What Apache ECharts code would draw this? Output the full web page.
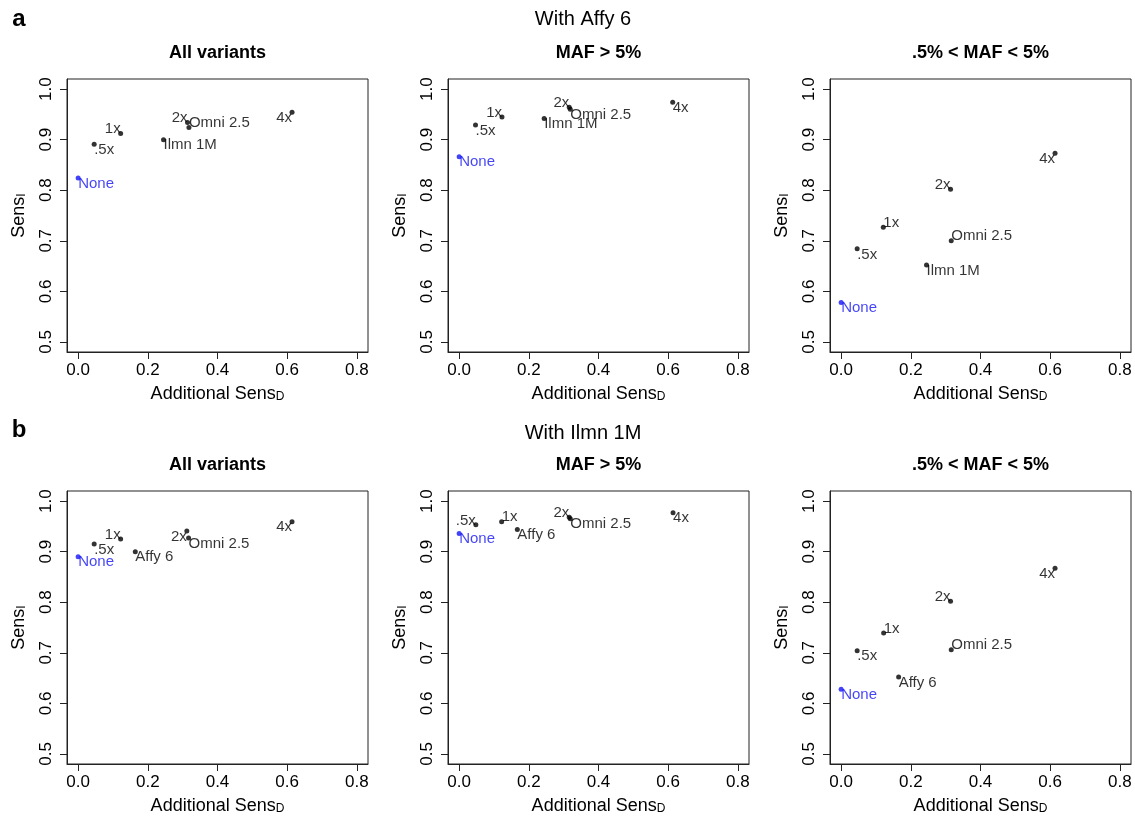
<!DOCTYPE html>
<html><head><meta charset="utf-8">
<script src="https://cdn.jsdelivr.net/npm/echarts@6/dist/echarts.min.js"></script>
<style>html,body{margin:0;padding:0;background:#fff}#c{width:1135px;height:817px}</style>
</head><body><div id="c"></div>
<script>
const FONT = "'Liberation Sans', Arial, Helvetica, sans-serif";

// ---- data ----
const rowLetters = ['a', 'b'];
const rowTitles = ['With Affy 6', 'With Ilmn 1M'];
const panelTitles = ['All variants', 'MAF > 5%', '.5% < MAF < 5%'];
const xTicks = [0, 0.2, 0.4, 0.6, 0.8];
const yTicks = [0.5, 0.6, 0.7, 0.8, 0.9, 1.0];

const namesA = ['None', '.5x', '1x', '2x', '4x', 'Ilmn 1M', 'Omni 2.5'];
const namesB = ['None', '.5x', '1x', '2x', '4x', 'Affy 6', 'Omni 2.5'];

// Row a: with Affy 6
const a1X = [0, 0.046, 0.122, 0.314, 0.614, 0.245, 0.318];
const a1Y = [0.824, 0.891, 0.912, 0.934, 0.954, 0.900, 0.924];
const a2X = [0, 0.047, 0.123, 0.316, 0.613, 0.244, 0.319];
const a2Y = [0.866, 0.929, 0.945, 0.964, 0.974, 0.942, 0.960];
const a3X = [0, 0.046, 0.121, 0.314, 0.614, 0.245, 0.316];
const a3Y = [0.578, 0.684, 0.727, 0.802, 0.873, 0.652, 0.700];
// Row b: with Ilmn 1M
const b1X = [0, 0.046, 0.122, 0.312, 0.614, 0.164, 0.317];
const b1Y = [0.890, 0.915, 0.925, 0.941, 0.959, 0.900, 0.927];
const b2X = [0, 0.048, 0.122, 0.316, 0.614, 0.167, 0.319];
const b2Y = [0.936, 0.953, 0.959, 0.968, 0.977, 0.944, 0.965];
const b3X = [0, 0.046, 0.122, 0.314, 0.614, 0.165, 0.316];
const b3Y = [0.628, 0.704, 0.739, 0.802, 0.867, 0.652, 0.706];

// ---- label placement (layout only) ----
const anchorsA1 = ['tl', 'tl', 'br', 'br', 'tr', 'tl', 'bl'];
const anchorsA2 = ['tl', 'tl', 'br', 'br', 'tl', 'tl', 'tl'];
const anchorsA3 = ['tl', 'tl', 'bl', 'br', 'tr', 'tl', 'bl'];
const anchorsB1 = ['tl', 'tl', 'br', 'tr', 'tr', 'tl', 'tl'];
const anchorsB2 = ['tl', 'br', 'bl', 'br', 'tl', 'tl', 'tl'];
const anchorsB3 = ['tl', 'tl', 'bl', 'br', 'tr', 'tl', 'bl'];

const panels = [
  { names: namesA, xs: a1X, ys: a1Y, anchors: anchorsA1 },
  { names: namesA, xs: a2X, ys: a2Y, anchors: anchorsA2 },
  { names: namesA, xs: a3X, ys: a3Y, anchors: anchorsA3 },
  { names: namesB, xs: b1X, ys: b1Y, anchors: anchorsB1 },
  { names: namesB, xs: b2X, ys: b2Y, anchors: anchorsB2 },
  { names: namesB, xs: b3X, ys: b3Y, anchors: anchorsB3 }
];

const colLefts = [67, 448, 830];
const rowTops = [79, 491];
const GW = 301, GH = 273;
const BLUE = '#1414f5';
const INK = '#000';

function anchorLabel(a) {
  const m = {
    tl: { align: 'left', verticalAlign: 'top', offset: [0, -2] },
    tr: { align: 'right', verticalAlign: 'top', offset: [0, -2] },
    bl: { align: 'left', verticalAlign: 'bottom', offset: [0, 3] },
    br: { align: 'right', verticalAlign: 'bottom', offset: [0, 3] }
  }[a];
  return Object.assign({ position: ['50%', '50%'] }, m);
}

const richName = {
  n: { fontSize: 18, fontFamily: FONT, color: INK, verticalAlign: 'top', lineHeight: 18 },
  s: { fontSize: 12, fontFamily: FONT, color: INK, verticalAlign: 'bottom', lineHeight: 12, padding: [10, 0, 0, 0] }
};

const grids = [], xAxes = [], yAxes = [], series = [], graphics = [];
panels.forEach((p, i) => {
  const r = Math.floor(i / 3), c = i % 3;
  grids.push({ left: colLefts[c], top: rowTops[r], width: GW, height: GH,
    show: true, borderColor: '#222', borderWidth: 1, backgroundColor: 'transparent' });
  xAxes.push({
    gridIndex: i, type: 'value', min: -0.032, max: 0.832,
    name: '{n|Additional Sens}{s|D}', nameLocation: 'middle', nameGap: 33,
    nameTextStyle: { rich: richName },
    axisLine: { show: true, onZero: false, lineStyle: { color: '#222', width: 1 } },
    axisTick: { show: true, length: 7, customValues: xTicks, lineStyle: { color: '#222' } },
    axisLabel: { customValues: xTicks, formatter: v => v.toFixed(1), fontSize: 17,
      fontFamily: FONT, color: INK, margin: 10 },
    splitLine: { show: false }
  });
  yAxes.push({
    gridIndex: i, type: 'value', min: 0.48, max: 1.02,
    name: '{n|Sens}{s|I}', nameLocation: 'middle', nameRotate: 90, nameGap: 39,
    nameTextStyle: { rich: richName },
    axisLine: { show: true, onZero: false, lineStyle: { color: '#222', width: 1 } },
    axisTick: { show: true, length: 7, customValues: yTicks, lineStyle: { color: '#222' } },
    axisLabel: { customValues: yTicks, formatter: v => v.toFixed(1), fontSize: 17,
      fontFamily: FONT, color: INK, margin: 12, rotate: 90 },
    splitLine: { show: false }
  });
  series.push({
    type: 'scatter', xAxisIndex: i, yAxisIndex: i, symbol: 'circle', symbolSize: 5,
    silent: true,
    data: p.names.map((n, k) => {
      const col = n === 'None' ? BLUE : INK;
      return {
        name: n, value: [p.xs[k], p.ys[k]],
        itemStyle: { color: col },
        label: Object.assign({ show: true, formatter: '{b}', fontSize: 15, fontFamily: FONT,
          color: col, lineHeight: 15 }, anchorLabel(p.anchors[k]))
      };
    })
  });
  graphics.push({ type: 'text', x: colLefts[c] + GW / 2, y: rowTops[r] - 26,
    style: { text: panelTitles[c], font: 'bold 18px ' + FONT, fill: INK,
      textAlign: 'center', textVerticalAlign: 'middle' } });
});
[0, 1].forEach(r => {
  graphics.push({ type: 'text', x: 19, y: r === 0 ? 19 : 430,
    style: { text: rowLetters[r], font: 'bold 24px ' + FONT, fill: INK,
      textAlign: 'center', textVerticalAlign: 'middle' } });
  graphics.push({ type: 'text', x: 583, y: r === 0 ? 19 : 433,
    style: { text: rowTitles[r], font: '20px ' + FONT, fill: INK,
      textAlign: 'center', textVerticalAlign: 'middle' } });
});

const chart = echarts.init(document.getElementById('c'), null, { renderer: 'canvas' });
chart.setOption({
  animation: false, backgroundColor: '#fff',
  grid: grids, xAxis: xAxes, yAxis: yAxes, series: series, graphic: graphics
});
</script></body></html>
